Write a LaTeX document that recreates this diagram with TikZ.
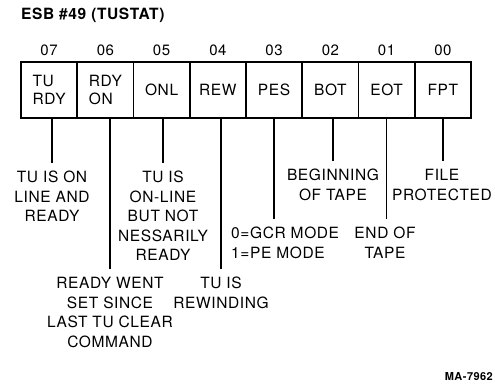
\documentclass[tikz,border=0pt]{standalone}
\usepackage{fontspec}
\setmainfont[LetterSpace=4]{TeX Gyre Heros}
\usetikzlibrary{positioning}

\tikzset{
  cell/.style={draw,line width=1.5pt,minimum width=56.25pt,minimum height=56pt,inner sep=0pt,
    font=\fontsize{15.5}{18}\selectfont,align=left},
  bitnum/.style={inner sep=0pt,font=\fontsize{15}{18}\selectfont},
  desc/.style={inner sep=0pt,anchor=north,align=center,font=\fontsize{15.5}{19.5}\selectfont},
  lead/.style={line width=1.3pt,shorten >=8pt}
}

\begin{document}
\begin{tikzpicture}[x=1pt,y=-1pt]
\useasboundingbox (0,0) rectangle (495,384);
\node[anchor=west,inner sep=0pt,font=\fontsize{15.5}{17}\selectfont\bfseries] (title) at (21,15) {ESB \#49 (TUSTAT)};
% register cells
\node[cell] (b7) at (49.1,90) {TU\\RDY};
\node[cell] (b6) at (105.4,90) {RDY\\ON};
\node[cell] (b5) at (161.6,90) {ONL};
\node[cell] (b4) at (217.9,90) {REW};
\node[cell] (b3) at (274.1,90) {PES};
\node[cell] (b2) at (330.4,90) {BOT};
\node[cell] (b1) at (386.6,90) {EOT};
\node[cell] (b0) at (442.9,90) {FPT};
% bit numbers
\node[bitnum,above=5pt of b7] (n7) {07};
\node[bitnum,above=5pt of b6] (n6) {06};
\node[bitnum,above=5pt of b5] (n5) {05};
\node[bitnum,above=5pt of b4] (n4) {04};
\node[bitnum,above=5pt of b3] (n3) {03};
\node[bitnum,above=5pt of b2] (n2) {02};
\node[bitnum,above=5pt of b1] (n1) {01};
\node[bitnum,above=5pt of b0] (n0) {00};
% descriptions
\node[desc] (l7) at (52,171) {TU IS ON\\LINE AND\\READY};
\node[desc] (l6) at (110,277) {READY WENT\\SET SINCE\\LAST TU CLEAR\\COMMAND};
\node[desc] (l5) at (163,171) {TU IS\\ON-LINE\\BUT NOT\\NESSARILY\\READY};
\node[desc] (l4) at (221,277) {TU IS\\REWINDING};
\node[desc,anchor=north west,align=left] (l3) at (231,227) {0=GCR MODE\\1=PE MODE};
\node[desc] (l2) at (333,169) {BEGINNING\\OF TAPE};
\node[desc] (l1) at (385,227) {END OF\\TAPE};
\node[desc] (l0) at (442,169) {FILE\\PROTECTED};
% leads
\draw[lead] (l7.north |- b7.south) -- (l7.north);
\draw[lead] (l6.north |- b6.south) -- (l6.north);
\draw[lead] (l5.north |- b5.south) -- (l5.north);
\draw[lead] (l4.north |- b4.south) -- (l4.north);
\draw[lead] (b3.south) -- (b3.south |- l3.north);
\draw[lead] (l2.north |- b2.south) -- (l2.north);
\draw[lead] (b1.south) -- (b1.south |- l1.north);
\draw[lead] (b0.south) -- (b0.south |- l0.north);
\node[anchor=east,inner sep=0pt,font=\fontsize{11}{13}\selectfont\bfseries] (fig) at (493,377) {MA-7962};
\end{tikzpicture}
\end{document}
